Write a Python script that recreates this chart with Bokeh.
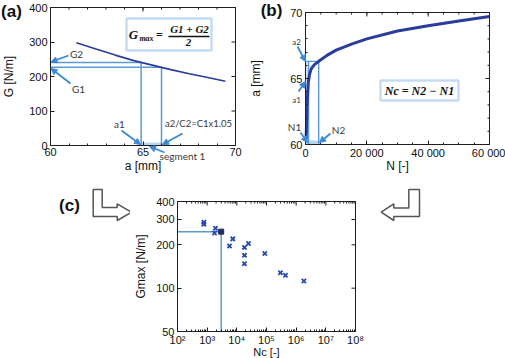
import numpy as np
from bokeh.plotting import figure
from bokeh.layouts import column, row
from bokeh.models import (Range1d, FixedTicker, Label, Arrow, NormalHead, BoxAnnotation)
from bokeh.embed import file_html
from bokeh.resources import INLINE

# ---------------- data ----------------
# (a) strain energy release rate along the crack
crack_len = [61.4, 62.5, 63.5, 64.5, 65.5, 66.5, 67.5, 68.5, 69.45]
g_rate = [298, 279, 262, 246, 233, 220, 208, 197, 186]
a1 = 64.9
a2 = 66.0
a_ticks = [60, 65, 70]
g_ticks = [0, 100, 200, 300, 400]

# (b) crack length against number of cycles
cycles = [200, 500, 900, 1300, 1900, 2900, 4300, 7000, 10000, 15000, 20000,
          30000, 40000, 50000, 60000]
crack_b = [60.4, 63.0, 64.7, 65.3, 65.75, 66.05, 66.3, 66.75, 67.15, 67.6, 68.0,
           68.6, 69.0, 69.35, 69.7]
a2_b = 66.3
n1 = 1000
n2 = 4300
n_ticks = [0, 20000, 40000, 60000]
n_tick_labels = ["0", "20 000", "40 000", "60 000"]
ab_ticks = [60, 65, 70]

# (c) Gmax against cycles of the segment
nc = [771, 771, 1910, 1770, 7310, 5660, 18100, 24700, 18100, 18100,
      87900, 296000, 436000, 1820000]
gmax = [287, 278, 261, 242, 220, 196, 192, 204, 169, 148,
        174, 128, 123, 112]
nc_sel = 2970
gmax_sel = 247
nc_ticks = [1e2, 1e3, 1e4, 1e5, 1e6, 1e7, 1e8]
nc_tick_labels = ["10²", "10³", "10⁴", "10⁵", "10⁶", "10⁷", "10⁸"]
gmax_ticks = [50, 100, 200, 300, 400]

# ---------------- style ----------------
FONT = "Liberation Sans"
NOTE_FONT = "Lato"
MATH_FONT = "Liberation Serif"
INK = "#1e1e1e"
CURVE = "#2a3c9c"
GUIDE = "#5b9bd5"
FILL = "#b9d5ee"
POINTER = "#3b88d3"
BOXC = "#3d8bd5"
MARK = "#2b4aae"
NOTE = "#3a3a3a"


def lin_range(px_lo, px_hi, px0, v0, px1, v1):
    """Data range spanning the pixels px_lo..px_hi, given two reference pixels."""
    k = (v1 - v0) / (px1 - px0)
    return Range1d(v0 + (px_lo - px0) * k, v0 + (px_hi - px0) * k)


def log_range(px_lo, px_hi, px0, v0, px1, v1):
    k = (np.log10(v1) - np.log10(v0)) / (px1 - px0)
    return Range1d(10 ** (np.log10(v0) + (px_lo - px0) * k),
                   10 ** (np.log10(v0) + (px_hi - px0) * k))


def panel(width, height, x_range, y_range, **kw):
    p = figure(width=width, height=height, x_range=x_range, y_range=y_range,
               min_border=0, output_backend="svg", toolbar_location=None, **kw)
    p.grid.visible = False
    p.outline_line_color = None
    p.background_fill_color = "white"
    p.border_fill_color = "white"
    return p


def style_axis(ax, tick_size="11px"):
    ax.major_tick_in = 4
    ax.major_tick_out = 0
    ax.minor_tick_in = 2
    ax.minor_tick_out = 0
    ax.major_tick_line_color = INK
    ax.minor_tick_line_color = INK
    ax.axis_line_color = INK
    ax.major_label_text_font = FONT
    ax.major_label_text_font_size = tick_size
    ax.major_label_text_color = "#111111"
    ax.axis_label_text_font = FONT
    ax.axis_label_text_font_size = "12px"
    ax.axis_label_text_font_style = "normal"
    ax.axis_label_text_color = "#111111"
    ax.major_label_standoff = 3


def axes_box(p, x0, x1, y0, y1, xticks, xminor, yticks, yminor):
    """Closed axes box with inward ticks on the top and right edges."""
    p.quad(left=[x0], right=[x1], bottom=[y0], top=[y1], fill_color=None,
           line_color=INK, line_width=1)
    p.ray(x=xticks, y=[y1] * len(xticks), length=4, length_units="screen",
          angle=-np.pi / 2, line_color=INK, line_width=1)
    p.ray(x=[x1] * len(yticks), y=yticks, length=4, length_units="screen",
          angle=np.pi, line_color=INK, line_width=1)
    if xminor:
        p.ray(x=xminor, y=[y1] * len(xminor), length=2, length_units="screen",
              angle=-np.pi / 2, line_color=INK, line_width=1)
    if yminor:
        p.ray(x=[x1] * len(yminor), y=yminor, length=2, length_units="screen",
              angle=np.pi, line_color=INK, line_width=1)


def note(p, x, y, text, size="10px", font=NOTE_FONT, style="normal", color=NOTE,
         align="center"):
    p.add_layout(Label(x=x, y=y, text=text, text_font=font, text_font_size=size,
                       text_font_style=style, text_color=color, text_align=align,
                       text_baseline="middle"))


def pointer(p, xs, ys, xe, ye):
    p.add_layout(Arrow(end=NormalHead(size=6, fill_color=POINTER, line_color=POINTER),
                       x_start=xs, y_start=ys, x_end=xe, y_end=ye,
                       line_color=POINTER, line_width=1.8))


# ---------------- (a) ----------------
# axes box occupies pixels x 50..235, y 7..145 of this 245 x 178 panel
pa = panel(245, 178, lin_range(0, 245, 50, 60, 235, 70), lin_range(178, 0, 145, 0, 7, 400))


def pos_a(px, py):
    return 60 + (px - 50) * 10 / 185, (145 - py) * 400 / 138


a_minor = list(range(61, 70))
pa.xaxis.ticker = FixedTicker(ticks=a_ticks, minor_ticks=a_minor)
pa.yaxis.ticker = FixedTicker(ticks=g_ticks)
pa.xaxis.fixed_location = 0
pa.yaxis.fixed_location = 60
pa.xaxis.bounds = (60, 70)
pa.yaxis.bounds = (0, 400)
pa.xaxis.axis_label = "a [mm]"
pa.yaxis.axis_label = "G [N/m]"
style_axis(pa.xaxis[0])
style_axis(pa.yaxis[0])
pa.xaxis.major_label_standoff = 2
pa.xaxis.axis_label_standoff = 0
pa.yaxis.axis_label_standoff = 10
axes_box(pa, 60, 70, 0, 400, a_ticks, a_minor, g_ticks, [])

g2 = float(np.interp(a1, crack_len, g_rate))
g1 = float(np.interp(a2, crack_len, g_rate))

pa.quad(left=[a1], right=[a2], bottom=[0], top=[9], fill_color=FILL, line_color=None)
pa.segment(x0=[60, 60, a1, a2], y0=[g2, g1, 0, 0], x1=[a1, a2, a1, a2], y1=[g2, g1, g2, g1],
           line_color=GUIDE, line_width=1.5)
pa.line(crack_len, g_rate, line_color=CURVE, line_width=1.6)

# formula box
bx0, by0 = pos_a(126, 18)
bx1, by1 = pos_a(211, 50)
pa.add_layout(BoxAnnotation(left=bx0, right=bx1, top=by0, bottom=by1, fill_color="white",
                            fill_alpha=1, line_color=BOXC, line_width=2.5, level="underlay"))
fx0, fy = pos_a(168, 36)
fx1, _ = pos_a(209, 36)
pa.segment(x0=[fx0], y0=[fy], x1=[fx1], y1=[fy], line_color="#111111", line_width=1.3)
note(pa, *pos_a(133, 34), "G", size="13px", font=MATH_FONT, style="bold italic", color="#111111")
note(pa, *pos_a(146, 38), "max", size="8px", font=MATH_FONT, style="bold italic", color="#111111")
note(pa, *pos_a(159, 34), "=", size="12px", font=MATH_FONT, style="bold", color="#111111")
note(pa, *pos_a(189, 28), "G1 + G2", size="11px", font=MATH_FONT, style="bold italic", color="#111111")
note(pa, *pos_a(188, 42), "2", size="11px", font=MATH_FONT, style="bold italic", color="#111111")

# pointers and their notes
note(pa, *pos_a(76, 53), "G2")
pointer(pa, *pos_a(68, 55), *pos_a(50.5, 61.5))
note(pa, *pos_a(78, 88), "G1")
pointer(pa, *pos_a(70, 83), *pos_a(50.5, 68))
note(pa, *pos_a(119, 123), "a1")
pointer(pa, *pos_a(121, 130), *pos_a(140, 144))
note(pa, *pos_a(198, 123), "a2/C2=C1x1.05", size="9.5px")
pointer(pa, *pos_a(182, 133), *pos_a(162, 144))
note(pa, *pos_a(182, 155), "segment 1")
pointer(pa, *pos_a(164, 152), *pos_a(149, 146))
note(pa, *pos_a(11, 11), "(a)", size="17px", font=FONT, style="bold", color="#111111")

# ---------------- (b) ----------------
# this panel starts at page x 245; axes box at page x 305..489, y 12..144
pb = panel(260, 178, lin_range(245, 505, 305, 0, 489, 60000),
           lin_range(178, 0, 144, 60, 12, 70))


def pos_b(px, py):
    return (px - 305) * 60000 / 184, 60 + (144 - py) * 10 / 132


n_minor = list(range(5000, 60000, 5000))
ab_minor = list(range(61, 70))
pb.xaxis.ticker = FixedTicker(ticks=n_ticks, minor_ticks=n_minor)
pb.yaxis.ticker = FixedTicker(ticks=ab_ticks, minor_ticks=ab_minor)
pb.xaxis.major_label_overrides = dict(zip(n_ticks, n_tick_labels))
pb.xaxis.fixed_location = 60
pb.yaxis.fixed_location = 0
pb.xaxis.bounds = (0, 60000)
pb.yaxis.bounds = (60, 70)
pb.xaxis.axis_label = "N [-]"
pb.yaxis.axis_label = "a [mm]"
style_axis(pb.xaxis[0])
style_axis(pb.yaxis[0])
pb.xaxis.major_label_standoff = 2
pb.xaxis.axis_label_standoff = -3
pb.yaxis.axis_label_standoff = 24
axes_box(pb, 0, 60000, 60, 70, n_ticks, n_minor, ab_ticks, ab_minor)

pb.quad(left=[0], right=[n1], bottom=[60], top=[a2_b], fill_color=FILL, fill_alpha=0.6,
        line_color=None)
pb.quad(left=[0], right=[n2], bottom=[60], top=[60.3], fill_color=FILL, line_color=None)
pb.segment(x0=[0, n1, n2], y0=[a2_b, 60, 60], x1=[n2, n1, n2], y1=[a2_b, a2_b, a2_b],
           line_color=GUIDE, line_width=1.4)
pb.line(cycles, crack_b, line_color=CURVE, line_width=3)

# formula box
cx0, cy0 = pos_b(380, 80)
cx1, cy1 = pos_b(458, 100)
pb.add_layout(BoxAnnotation(left=cx0, right=cx1, top=cy0, bottom=cy1, fill_color="white",
                            fill_alpha=1, line_color=BOXC, line_width=2.5, level="underlay"))
note(pb, *pos_b(419, 90), "Nc = N2 − N1", size="12px", font=MATH_FONT, style="bold italic",
     color="#111111")

note(pb, *pos_b(296, 41), "a2", size="8px")
pointer(pb, *pos_b(297, 46), *pos_b(305, 61))
note(pb, *pos_b(296, 99), "a1", size="8px")
pointer(pb, *pos_b(298, 91), *pos_b(305, 81))
note(pb, *pos_b(294, 126), "N1")
pointer(pb, *pos_b(300, 132), *pos_b(307, 142))
note(pb, *pos_b(338, 129), "N2")
pointer(pb, *pos_b(330, 133), *pos_b(319, 142))
note(pb, *pos_b(271, 10), "(b)", size="17px", font=FONT, style="bold", color="#111111")

# ---------------- (c) ----------------
# this panel spans page x 130..375, y 178..358; axes box at x 177..355, y 201..331
pc = panel(245, 180, log_range(130, 375, 177, 1e2, 355, 1e8),
           log_range(358, 178, 331, 50, 201, 400),
           x_axis_type="log", y_axis_type="log")

nc_minor = [k * 10 ** d for d in range(2, 8) for k in range(2, 10)]
pc.xaxis.ticker = FixedTicker(ticks=nc_ticks, minor_ticks=nc_minor)
pc.yaxis.ticker = FixedTicker(ticks=gmax_ticks)
pc.xaxis.major_label_overrides = dict(zip([int(t) for t in nc_ticks], nc_tick_labels))
pc.xaxis.fixed_location = 50
pc.yaxis.fixed_location = 1e2
pc.xaxis.bounds = (1e2, 1e8)
pc.yaxis.bounds = (50, 400)
pc.xaxis.axis_label = "Nc [-]"
pc.yaxis.axis_label = "Gmax [N/m]"
style_axis(pc.xaxis[0])
style_axis(pc.yaxis[0])
pc.xaxis.axis_label_text_font_size = "11px"
pc.xaxis.major_label_standoff = 2
pc.xaxis.axis_label_standoff = -3
pc.yaxis.axis_label_standoff = 5
axes_box(pc, 1e2, 1e8, 50, 400, nc_ticks, nc_minor, gmax_ticks, [])

pc.segment(x0=[1e2, nc_sel], y0=[gmax_sel, 50], x1=[nc_sel, nc_sel], y1=[gmax_sel, gmax_sel],
           line_color=GUIDE, line_width=1.5)
pc.scatter(nc, gmax, marker="x", size=6, line_width=1.8, line_color=MARK)
pc.scatter([nc_sel], [gmax_sel], marker="square", size=5, fill_color="#1c2b5c",
           line_color="#1c2b5c")


# ---------------- flow arrows ----------------
def side_figure(x0, x1):
    p = figure(width=130, height=180, x_range=Range1d(x0, x1), y_range=Range1d(358, 178),
               min_border=0, x_axis_location=None, y_axis_location=None,
               output_backend="svg", toolbar_location=None)
    p.grid.visible = False
    p.outline_line_color = None
    p.background_fill_color = "white"
    p.border_fill_color = "white"
    return p


pl = side_figure(0, 130)
pl.patch([92.7, 101.7, 101.7, 116.7, 116.7, 131, 116.7, 116.7, 92.7],
         [189, 189, 207, 207, 203.3, 211.7, 220, 216, 216],
         fill_color="white", line_color="#555555", line_width=1.5)
note(pl, 69, 205, "(c)", size="17px", font=FONT, style="bold", color="#111111")

pr = side_figure(375, 505)
pr.patch([419, 408.3, 408.3, 393.3, 393.3, 380.7, 393.3, 393.3, 419],
         [189, 189, 207.5, 207.5, 203.3, 211.7, 220, 216, 216],
         fill_color="white", line_color="#555555", line_width=1.5)

layout = column(row(pa, pb), row(pl, pc, pr))
open("out.html", "w").write(file_html(layout, INLINE))
